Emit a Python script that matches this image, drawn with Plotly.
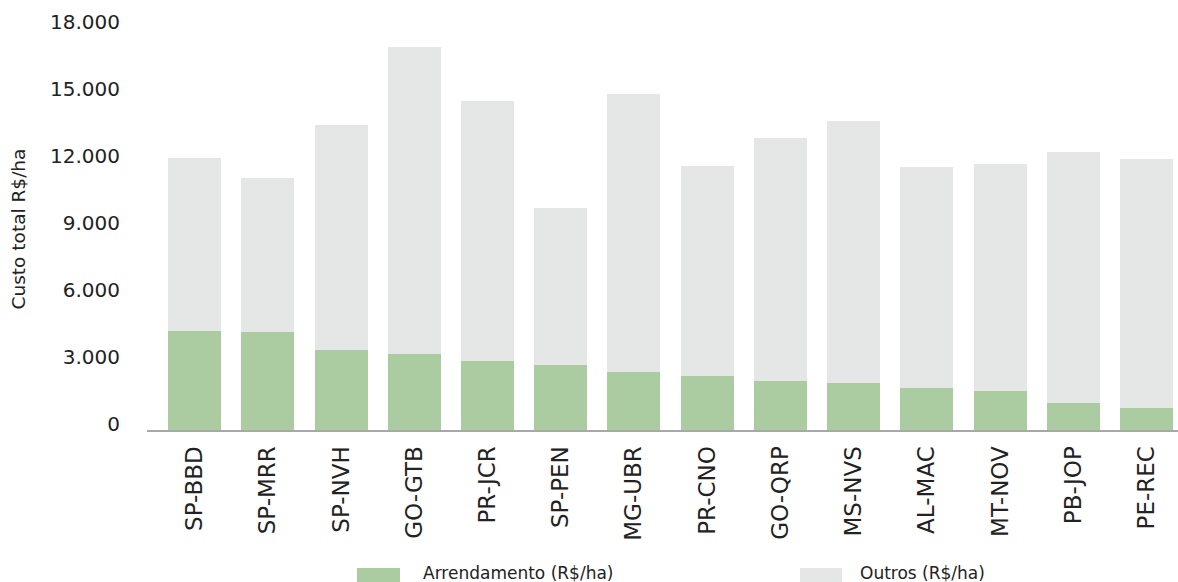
import plotly.graph_objects as go

# Custo total por região (R$/ha), separado em arrendamento e demais custos
regioes = ["SP-BBD", "SP-MRR", "SP-NVH", "GO-GTB", "PR-JCR", "SP-PEN", "MG-UBR",
           "PR-CNO", "GO-QRP", "MS-NVS", "AL-MAC", "MT-NOV", "PB-JOP", "PE-REC"]
arrendamento = [4430, 4390, 3580, 3400, 3090, 2910, 2600, 2420, 2190, 2100, 1880, 1750, 1210, 990]
custo_total = [12180, 11280, 13660, 17150, 14730, 9940, 15050, 11820, 13080, 13840, 11780, 11910, 12450, 12130]
outros = [t - a for t, a in zip(custo_total, arrendamento)]

y_ticks = [0, 3000, 6000, 9000, 12000, 15000, 18000]
y_tick_labels = ["0", "3.000", "6.000", "9.000", "12.000", "15.000", "18.000"]

VERDE = "#aacca0"
CINZA = "#e5e6e6"
FONTE = "DejaVu Sans"
TEXTO = "#222222"

fig = go.Figure()
fig.add_trace(go.Bar(x=regioes, y=arrendamento, name="Arrendamento (R$/ha)",
                     marker=dict(color=VERDE, line=dict(width=0))))
fig.add_trace(go.Bar(x=regioes, y=outros, name="Outros (R$/ha)",
                     marker=dict(color=CINZA, line=dict(width=0))))

fig.update_layout(
    barmode="stack",
    bargap=0.276,
    width=1178, height=582,
    margin=dict(l=147, r=0, t=28, b=152),
    paper_bgcolor="white", plot_bgcolor="white",
    font=dict(family=FONTE, color=TEXTO),
    showlegend=False,
)
fig.update_xaxes(
    range=[-0.65, 13.43],
    tickangle=-90,
    tickfont=dict(size=23, family=FONTE, color=TEXTO),
    showline=True, linecolor="#a8a8a8", linewidth=2,
    showgrid=False, ticks="", ticklabelstandoff=5,
)
fig.update_yaxes(
    range=[0, 18000],
    tickvals=y_ticks, ticktext=y_tick_labels,
    tickfont=dict(size=20, family=FONTE, color=TEXTO),
    showgrid=False, zeroline=False, showline=False,
    ticks="", ticklabelstandoff=26, ticklabelshift=-6,
    title=dict(text="Custo total R$/ha", font=dict(size=18.5, family=FONTE, color=TEXTO), standoff=19),
)

# Legenda desenhada abaixo do eixo
itens = [("Arrendamento (R$/ha)", VERDE, 0.2037, 0.2454, 0.2657),
         ("Outros (R$/ha)", CINZA, 0.6334, 0.6741, 0.6896)]
for texto, cor, x0, x1, xt in itens:
    fig.add_shape(type="rect", xref="paper", yref="paper",
                  x0=x0, x1=x1, y0=-0.343, y1=-0.40,
                  fillcolor=cor, line=dict(width=0))
    fig.add_annotation(xref="paper", yref="paper", x=xt, y=-0.356,
                       text=texto, showarrow=False, xanchor="left", yanchor="middle",
                       font=dict(size=17, family=FONTE, color=TEXTO))

fig.write_html("out.html")
